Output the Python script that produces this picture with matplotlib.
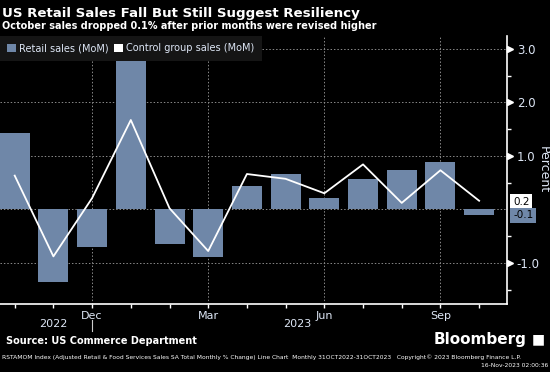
import matplotlib
matplotlib.use("Agg")
import matplotlib.pyplot as plt
import matplotlib.transforms as mtransforms
from matplotlib.patches import Patch

# Data (Oct 2022 .. Oct 2023)
months = ["Oct", "Nov", "Dec", "Jan", "Feb", "Mar", "Apr", "May", "Jun", "Jul", "Aug", "Sep", "Oct"]
retail = [1.42, -1.35, -0.70, 2.79, -0.64, -0.90, 0.44, 0.66, 0.21, 0.57, 0.74, 0.89, -0.10]
control = [0.63, -0.88, 0.21, 1.67, 0.02, -0.78, 0.66, 0.57, 0.30, 0.84, 0.12, 0.73, 0.16]
tick_labels = {2: "Dec", 5: "Mar", 8: "Jun", 11: "Sep"}
years = [("2022", 1.0), ("2023", 7.3)]

BAR = "#6f87a8"
GRID = "#8a8a8a"
TXT = "#dde6f5"

fig = plt.figure(figsize=(5.5, 3.72), dpi=100, facecolor="black")
ax = fig.add_axes([0.0, 0.1828, 0.9218, 0.7204])
ax.set_facecolor("black")

x = list(range(len(months)))
ax.bar(x, retail, width=0.775, color=BAR, zorder=2)
ax.plot(x, control, color="white", lw=1.3, zorder=3)

ax.set_xlim(-0.38, 12.72)
ax.set_ylim(-1.77, 3.24)

# grid
for yv in [-1, 0, 1, 2, 3]:
    ax.axhline(yv, color=GRID, lw=0.7, ls=(0, (1.5, 2)), zorder=1)
for xv in tick_labels:
    ax.axvline(xv, color=GRID, lw=0.7, ls=(0, (1.5, 2)), zorder=1)

# spines
for s in ["top", "left"]:
    ax.spines[s].set_visible(False)
ax.spines["right"].set_color("white")
ax.spines["bottom"].set_color("white")
ax.spines["right"].set_linewidth(1.2)
ax.spines["bottom"].set_linewidth(1.2)

# y axis on the right
ax.yaxis.tick_right()
ax.set_yticks([-1, 1, 2, 3])
ax.set_yticklabels(["-1.0", "1.0", "2.0", "3.0"])
ax.set_yticks([-1.5, -0.5, 0.5, 1.5, 2.5], minor=True)
ax.tick_params(axis="y", which="major", colors="white", labelcolor=TXT,
               labelsize=8.5, length=0, pad=7)
ax.tick_params(axis="y", which="minor", colors="white", length=3, width=1)
trans_y = mtransforms.blended_transform_factory(ax.transAxes, ax.transData)
ax.plot([1.006] * 4, [-1, 1, 2, 3], marker=">", ms=4, color="white", ls="none",
        transform=trans_y, clip_on=False)
ax.yaxis.set_label_position("right")
ax.set_ylabel("Percent", color=TXT, fontsize=9, rotation=-90, va="center")
ax.yaxis.set_label_coords(1.072, 0.5)

# x axis
ax.set_xticks(x)
ax.set_xticklabels([tick_labels.get(i, "") for i in x])
ax.tick_params(axis="x", colors="white", labelcolor=TXT, labelsize=8,
               length=3, width=1, pad=2)
trans_x = mtransforms.blended_transform_factory(ax.transData, ax.transAxes)
for label, xv in years:
    ax.text(xv, -0.075, label, transform=trans_x, color=TXT, fontsize=8,
            ha="center", va="center")
ax.plot([2, 2], [-0.06, -0.1], color="#cccccc", lw=0.8, transform=trans_x, clip_on=False)

# end-value tags
ax.text(1.012, 0.14, f"{control[-1]:.1f}", transform=trans_y, fontsize=7.5,
        color="black", ha="left", va="center",
        bbox=dict(boxstyle="square,pad=0.25", fc="white", ec="none"))
ax.text(1.012, -0.11, f"{retail[-1]:.1f}", transform=trans_y, fontsize=7.5,
        color="black", ha="left", va="center",
        bbox=dict(boxstyle="square,pad=0.25", fc=BAR, ec="none"))

# legend
handles = [Patch(facecolor=BAR, edgecolor="none", label="Retail sales (MoM)"),
           Patch(facecolor="white", edgecolor="none", label="Control group sales (MoM)")]
leg = ax.legend(handles=handles, loc="upper left", bbox_to_anchor=(0.0, 1.0), ncol=2,
                frameon=True, fontsize=7, handlelength=0.9, handleheight=0.9,
                handletextpad=0.3, columnspacing=0.6, borderpad=0.75, borderaxespad=0.0,
                fancybox=False)
leg.get_frame().set_facecolor("#151515")
leg.get_frame().set_edgecolor("none")
leg.get_frame().set_alpha(1)
for t in leg.get_texts():
    t.set_color(TXT)

# titles
fig.text(0.004, 0.965, "US Retail Sales Fall But Still Suggest Resiliency", color="white",
         fontsize=9.6, fontweight="bold", ha="left", va="center")
fig.text(0.004, 0.93, "October sales dropped 0.1% after prior months were revised higher",
         color="white", fontsize=7, fontweight="bold", ha="left", va="center")

# footer
fig.text(0.01, 0.083, "Source: US Commerce Department", color="white", fontsize=7,
         fontweight="bold", ha="left", va="center")
fig.text(0.958, 0.088, "Bloomberg", color="white", fontsize=11, fontweight="bold",
         ha="right", va="center")
fig.text(0.979, 0.088, "\u25a0", color="white", fontsize=10, ha="center", va="center")
fig.text(0.004, 0.04,
         "RSTAMOM Index (Adjusted Retail & Food Services Sales SA Total Monthly % Change) Line Chart  "
         "Monthly 31OCT2022-31OCT2023   Copyright\u00a9 2023 Bloomberg Finance L.P.",
         color="white", fontsize=4.3, ha="left", va="center")
fig.text(0.996, 0.017, "16-Nov-2023 02:00:36", color="white", fontsize=4.3,
         ha="right", va="center")

fig.savefig("out.png", dpi=100, facecolor="black")
